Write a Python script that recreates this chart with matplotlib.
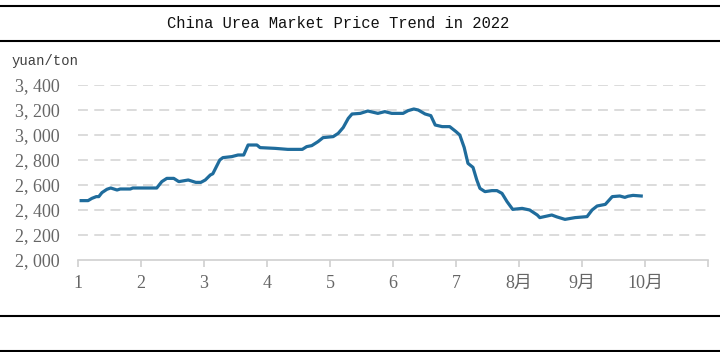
import matplotlib
matplotlib.use("Agg")
import matplotlib.pyplot as plt
from matplotlib.lines import Line2D

# position along the axis in months (0 = "1", 1 = "2", ...)
month_pos = [0.05, 0.16, 0.22, 0.29, 0.33, 0.38, 0.46, 0.52, 0.62, 0.67, 0.83, 0.87,
             1.25, 1.33, 1.41, 1.52, 1.60, 1.75, 1.87, 1.95, 2.02, 2.10, 2.14, 2.25,
             2.30, 2.44, 2.54, 2.63, 2.70, 2.84, 2.89, 3.13, 3.33, 3.56, 3.63, 3.71,
             3.81, 3.89, 4.05, 4.13, 4.21, 4.29, 4.35, 4.48, 4.60, 4.76, 4.87, 4.98,
             5.16, 5.24, 5.33, 5.40, 5.51, 5.60, 5.67, 5.78, 5.90, 6.00, 6.06, 6.13,
             6.19, 6.27, 6.33, 6.38, 6.46, 6.57, 6.65, 6.73, 6.81, 6.90, 7.05, 7.17,
             7.29, 7.33, 7.52, 7.60, 7.73, 7.89, 8.08, 8.16, 8.24, 8.37, 8.48, 8.60,
             8.68, 8.73, 8.81, 8.94]
price = [2475, 2475, 2493, 2507, 2507, 2539, 2566, 2576, 2560, 2568, 2568, 2576,
         2576, 2627, 2653, 2653, 2627, 2640, 2621, 2621, 2640, 2680, 2690, 2800,
         2819, 2827, 2840, 2840, 2920, 2920, 2899, 2893, 2885, 2885, 2907, 2915,
         2947, 2979, 2987, 3013, 3060, 3133, 3168, 3173, 3192, 3173, 3187, 3173,
         3173, 3195, 3208, 3200, 3168, 3155, 3080, 3067, 3067, 3027, 3000, 2900,
         2773, 2741, 2640, 2573, 2547, 2555, 2555, 2533, 2467, 2405, 2413, 2400,
         2360, 2339, 2360, 2345, 2325, 2339, 2347, 2400, 2432, 2445, 2507, 2512,
         2501, 2510, 2517, 2512]

x_labels = ["1", "2", "3", "4", "5", "6", "7", "8月", "9月", "10月", ""]
y_ticks = [2000, 2200, 2400, 2600, 2800, 3000, 3200, 3400]
y_labels = ["2, 000", "2, 200", "2, 400", "2, 600", "2, 800", "3, 000", "3, 200", "3, 400"]

title = "China Urea Market Price Trend in 2022"
unit = "yuan/ton"

FONT = ["Liberation Serif", "Noto Sans CJK SC", "DejaVu Sans"]

fig = plt.figure(figsize=(7.2, 3.52), dpi=100)
W, H = 720, 352
ax = fig.add_axes([78 / W, 1 - 260 / H, (708 - 78) / W, (260 - 85) / H])

ax.plot(month_pos, price, color="#1f6c9c", linewidth=2.3, solid_joinstyle="round")
ax.set_xlim(0, 10)
ax.set_ylim(2000, 3400)

ax.set_yticks(y_ticks)
ax.set_yticklabels(y_labels, family=FONT, fontsize=13, color="#666666")
ax.set_xticks(range(11))
ax.set_xticklabels(x_labels, family=FONT, fontsize=13, color="#666666")

for v in y_ticks[1:]:
    ax.axhline(v, color="#d9d9d9", linewidth=1.3, linestyle=(0, (5.5, 3.5)), zorder=0)

for s in ["top", "right", "left"]:
    ax.spines[s].set_visible(False)
ax.spines["bottom"].set_color("#d0d0d0")
ax.spines["bottom"].set_linewidth(1.2)
ax.tick_params(axis="y", length=0, pad=13)
ax.tick_params(axis="x", length=5, color="#d0d0d0", width=1.2, pad=6)

# header/footer rules
for yy in [6, 41, 316, 351]:
    fig.add_artist(Line2D([0, 1], [1 - yy / H, 1 - yy / H], color="black",
                          linewidth=1.5, transform=fig.transFigure))

fig.text(338 / W, 1 - 24 / H, title, ha="center", va="center",
         family=["Liberation Mono", "DejaVu Sans Mono"], fontsize=11.2, color="#111111")
fig.text(12 / W, 1 - 61 / H, unit, ha="left", va="center",
         family=["Liberation Mono", "DejaVu Sans Mono"], fontsize=10, color="#404040")

fig.savefig("out.png", dpi=100)
